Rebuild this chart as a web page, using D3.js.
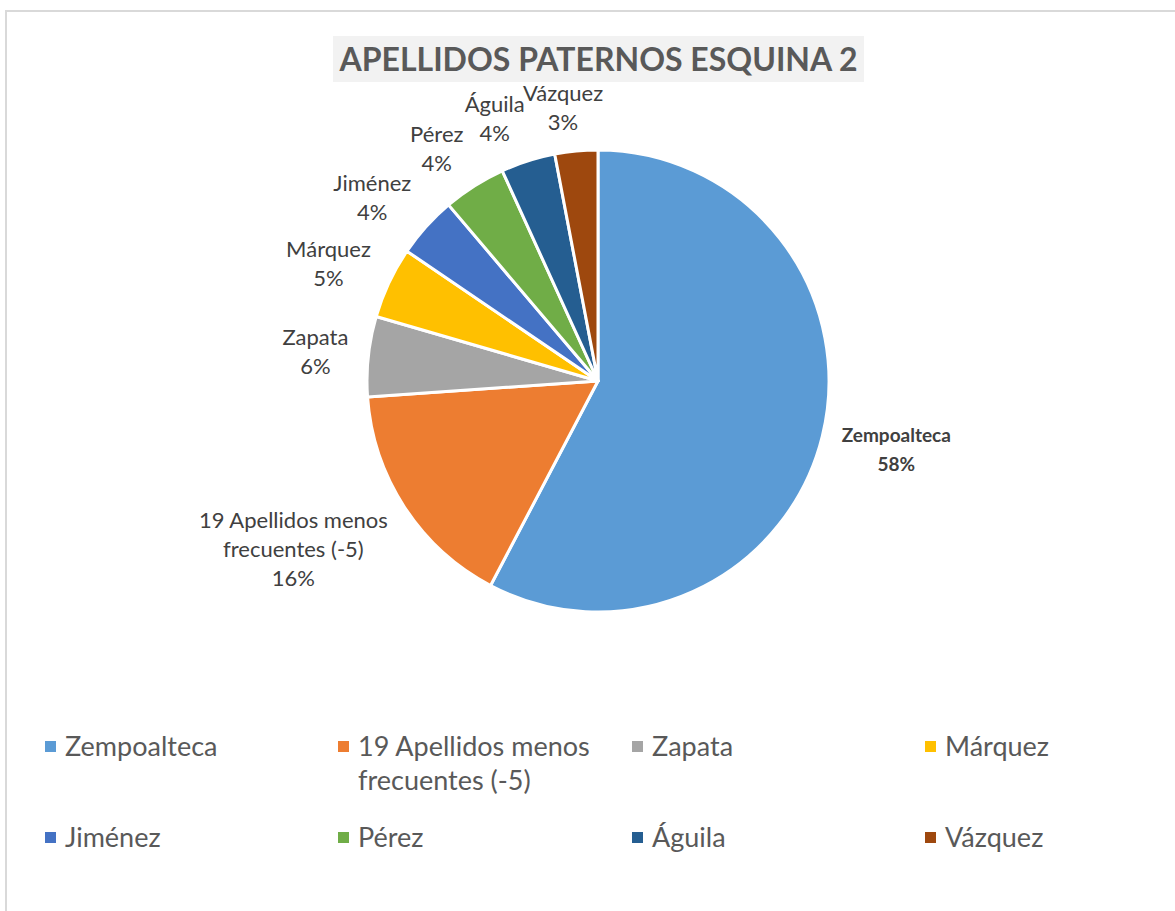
<!DOCTYPE html>
<html>
<head>
<meta charset="utf-8">
<script src="https://cdn.jsdelivr.net/npm/d3@7"></script>
<style>
  html, body { margin: 0; padding: 0; background: #fff; }
  svg { display: block; }
</style>
</head>
<body>
<svg id="chart" width="1175" height="911"></svg>
<script>
// ---- data ----
const chartTitle = "APELLIDOS PATERNOS ESQUINA 2";
const categories = ["Zempoalteca", "19 Apellidos menos frecuentes (-5)", "Zapata", "Márquez", "Jiménez", "Pérez", "Águila", "Vázquez"];
const values = [57.7, 16.2, 5.6, 5.0, 4.3, 4.4, 3.8, 3.0];
const colors = ["#5B9BD5", "#ED7D31", "#A5A5A5", "#FFC000", "#4472C4", "#70AD47", "#255E91", "#9E480E"];
// label line-breaks (as shown on the chart)
const labelLines = [["Zempoalteca"], ["19 Apellidos menos", "frecuentes (-5)"], ["Zapata"], ["Márquez"], ["Jiménez"], ["Pérez"], ["Águila"], ["Vázquez"]];
const legendLines = [["Zempoalteca"], ["19 Apellidos menos", "frecuentes (-5)"], ["Zapata"], ["Márquez"], ["Jiménez"], ["Pérez"], ["Águila"], ["Vázquez"]];

// ---- layout ----
const W = 1175, H = 911;
const cx = 598, cy = 381, R = 231;
const font = "Lato, 'Open Sans', sans-serif";

const svg = d3.select("#chart");

// chart border
svg.append("rect").attr("x", 6).attr("y", 11).attr("width", W + 10).attr("height", H + 10)
  .attr("fill", "#fff").attr("stroke", "#D9D9D9").attr("stroke-width", 2);

// title
const titleG = svg.append("g");
titleG.append("rect").attr("x", 333).attr("y", 36).attr("width", 531).attr("height", 46).attr("fill", "#F2F2F2");
titleG.append("text")
  .attr("x", 598.5).attr("y", 71)
  .attr("text-anchor", "middle")
  .attr("font-family", font).attr("font-weight", "bold")
  .attr("font-size", 32).attr("fill", "#595959")
  .text(chartTitle);

// pie
const total = d3.sum(values);
const data = categories.map((c, i) => ({ name: c, value: values[i], color: colors[i], lines: labelLines[i], i }));
const pie = d3.pie().value(d => d.value).sort(null);
const arc = d3.arc().innerRadius(0).outerRadius(R);
const arcs = pie(data);

const pieG = svg.append("g").attr("transform", `translate(${cx},${cy})`);
pieG.selectAll("path").data(arcs).join("path")
  .attr("d", arc)
  .attr("fill", d => d.data.color)
  .attr("stroke", "#fff").attr("stroke-width", 3).attr("stroke-linejoin", "round");

// data labels (best-fit style, outside the pie)
const lblSize = 22, lblBoldSize = 19, lblLH = 29, lblGap = 20;
arcs.forEach(a => {
  const d = a.data;
  const pct = Math.round(d.value / total * 100) + "%";
  const lines = d.lines.concat([pct]);
  const bold = d.i === 0;
  const fs = bold ? lblBoldSize : lblSize;
  const g = pieG.append("g");
  const t = g.append("text")
    .attr("text-anchor", "middle")
    .attr("font-family", font).attr("font-size", fs)
    .attr("font-weight", bold ? "bold" : "normal")
    .attr("fill", "#404040");
  lines.forEach((ln, k) => {
    t.append("tspan").attr("x", 0).attr("y", (k - (lines.length - 1) / 2) * lblLH + fs * 0.35).text(ln);
  });
  const bb = t.node().getBBox();
  const hw = bb.width / 2, hh = lines.length * lblLH / 2;
  const mid = (a.startAngle + a.endAngle) / 2;
  const ux = Math.sin(mid), uy = -Math.cos(mid);
  const r = R + lblGap;
  const ox = hw * Math.max(-1, Math.min(1, ux * 3));
  const oy = hh * uy * (uy < 0 ? 0.82 : 1.3);
  g.attr("transform", `translate(${ux * r + ox},${uy * r + oy})`);
});

// legend
const legSize = 27;
const colX = [45, 338, 632, 925];
const rowY = [747, 838];
const legG = svg.append("g");
data.forEach((d, i) => {
  const col = i % 4, row = Math.floor(i / 4);
  const x = colX[col], y = rowY[row];
  legG.append("rect").attr("x", x).attr("y", y - 6).attr("width", 11).attr("height", 11).attr("fill", d.color);
  const t = legG.append("text").attr("font-family", font).attr("font-size", legSize).attr("fill", "#595959");
  legendLines[i].forEach((ln, k) => {
    t.append("tspan").attr("x", x + 20).attr("y", y + 9 + k * 34).text(ln);
  });
});
</script>
</body>
</html>
